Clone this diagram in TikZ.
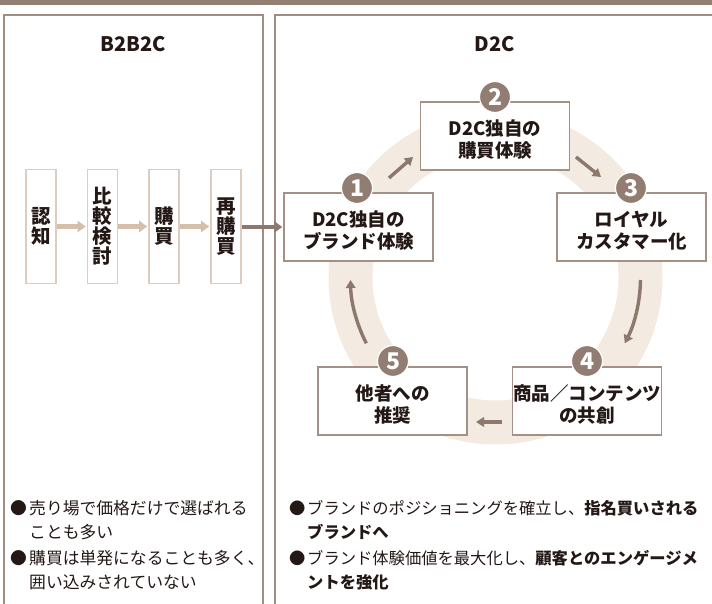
\documentclass[tikz,border=0pt]{standalone}
\usepackage{fontspec}
\setmainfont{Noto Sans CJK JP}
\usetikzlibrary{arrows.meta}
\definecolor{cBar}{HTML}{937F73}
\definecolor{cPanel}{HTML}{A08D82}
\definecolor{cStep}{HTML}{DECDBE}
\definecolor{cLight}{HTML}{D4C0AA}
\definecolor{cDark}{HTML}{8C786C}
\definecolor{cRing}{HTML}{F3EAE1}
\definecolor{cBox}{HTML}{A39185}
\definecolor{cNum}{HTML}{917D71}
\definecolor{cText}{HTML}{231815}
\begin{document}
\begin{tikzpicture}[x=1pt,y=1pt,
  panel/.style={draw=cPanel, line width=1.6pt},
  title/.style={text=cText, inner sep=0pt, font=\fontsize{20}{22}\selectfont\bfseries},
  stepbox/.style={draw=cStep, line width=1.6pt, fill=white, minimum width=30pt, minimum height=114pt, inner sep=0pt, align=center, text=cText, font=\fontsize{19.5}{20}\selectfont\bfseries},
  cbox/.style={draw=cBox, line width=1.4pt, fill=white, minimum width=149pt, minimum height=68pt, inner sep=0pt},
  ctext/.style={align=center, inner sep=0pt, text=cText, font=\fontsize{18.5}{22}\selectfont\bfseries},
  num/.style={circle, fill=cNum, draw=white, line width=1.2pt, minimum size=31pt, inner sep=0pt, text=white, font=\fontsize{23}{23}\selectfont\bfseries},
  lightarrow/.style={draw=cLight, line width=4.5pt, -{Triangle[length=8pt,width=11pt]}, shorten >=1pt},
  darkarrow/.style={draw=cDark, line width=4.5pt, -{Triangle[length=8pt,width=11pt]}, shorten >=1pt},
  ringarrow/.style={draw=cDark, line width=3.4pt, -{Triangle[length=8pt,width=9.5pt]}},
  btext/.style={anchor=west, inner sep=0pt, text=cText},
]
\useasboundingbox (0,0) rectangle (712,603);
% top bar
\fill[cBar] (0,598) rectangle (712,603);
% panels
\draw[panel] (4,-2) -- (4,588) -- (263,588) -- (263,-2);
\draw[panel] (275,-2) -- (275,588) -- (714,588);
% titles
\node[title] (tl) at (133,559) {B2B2C};
\node[title] (tr) at (495,559) {D2C};
% left steps
\node[stepbox] (s1) at (41,376.5) {認\\知};
\node[stepbox] (s2) at (102.5,376.5) {比\\較\\検\\討};
\node[stepbox] (s3) at (164,376.5) {購\\買};
\node[stepbox] (s4) at (226,376.5) {再\\購\\買};
\draw[lightarrow] (s1.east) -- (s2.west);
\draw[lightarrow] (s2.east) -- (s3.west);
\draw[lightarrow] (s3.east) -- (s4.west);
% ring
\coordinate (rc) at (495.5,325.5);
\draw[cRing, line width=44pt] (rc) circle[radius=145pt];
% D2C boxes
\node[cbox] (b1) at (358.5,376) {};
\node[cbox] (b2) at (495,467) {};
\node[cbox] (b3) at (631.5,376) {};
\node[cbox] (b4) at (587,202) {};
\node[cbox] (b5) at (392.5,202) {};
\node[ctext, yshift=-3.5pt] (t1) at (b1) {D2C独自の\\ブランド体験};
\node[ctext, yshift=-3.5pt] (t2) at (b2) {D2C独自の\\購買体験};
\node[ctext, yshift=-3.5pt] (t3) at (b3) {ロイヤル\\カスタマー化};
\node[ctext, yshift=-3.5pt] (t4) at (b4) {商品／コンテンツ\\の共創};
\node[ctext, yshift=-3.5pt] (t5) at (b5) {他者への\\推奨};
\node[num] (c1) at (357,415) {1};
\node[num] (c2) at (495,506) {2};
\node[num] (c3) at (631,415) {3};
\node[num] (c4) at (587,242) {4};
\node[num] (c5) at (393,242) {5};
% dark connector from left panel
\draw[darkarrow] (b1.west -| s4.east) -- (b1.west);
% ring arrows
\coordinate (a12s) at (389,425);
\coordinate (a12e) at (413,446);
\coordinate (a23s) at (576,446);
\coordinate (a23e) at (601,426);
\coordinate (a34s) at (640.5,323);
\coordinate (a45s) at (502,181);
\coordinate (a45e) at (476,181);
\coordinate (a51s) at (366.3,259.7);
\draw[ringarrow] (a12s) -- (a12e);
\draw[ringarrow] (a23s) -- (a23e);
\draw[ringarrow] (a34s) arc[start angle=-1, end angle=-27, radius=145pt];
\draw[ringarrow] (a45s) -- (a45e);
\draw[ringarrow] (a51s) arc[start angle=207, end angle=181, radius=145pt];
% bottom texts left
\begin{scope}[every node/.append style={font=\fontsize{16.8}{18}\selectfont}]
\node[btext] (lb1) at (10,95) {●};
\node[btext] (l1) at (29,95) {売り場で価格だけで選ばれる};
\node[btext] (l2) at (29,71) {ことも多い};
\node[btext] (lb2) at (10,45) {●};
\node[btext] (l3) at (29,45) {購買は単発になることも多く、};
\node[btext] (l4) at (29,21) {囲い込みされていない};
\end{scope}
% bottom texts right
\begin{scope}[every node/.append style={font=\fontsize{16.3}{18}\selectfont}]
\node[btext] (rb1) at (289,95) {●};
\node[btext] (r1) at (307,95) {ブランドのポジショニングを確立し、\textbf{指名買いされる}};
\node[btext] (r2) at (307,71) {\textbf{ブランドへ}};
\node[btext] (rb2) at (289,45) {●};
\node[btext] (r3) at (307,45) {ブランド体験価値を最大化し、\textbf{顧客とのエンゲージメ}};
\node[btext] (r4) at (307,21) {\textbf{ントを強化}};
\end{scope}
\end{tikzpicture}
\end{document}
